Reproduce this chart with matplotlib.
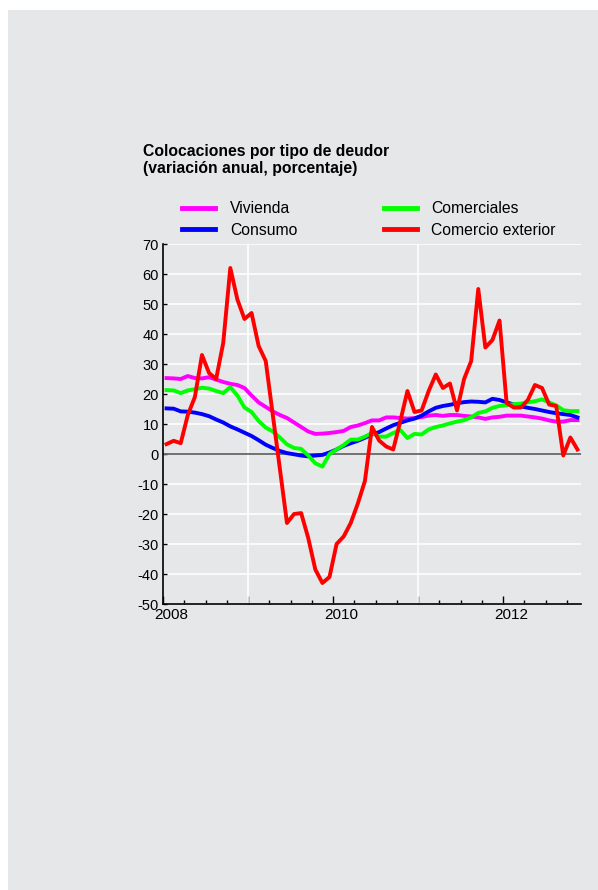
import matplotlib.pyplot as plt
from matplotlib.patches import Rectangle
from matplotlib.ticker import MultipleLocator
import numpy as np

plt.rcParams['font.family'] = ['Liberation Sans', 'DejaVu Sans']

# monthly data, Jan 2008 - Nov 2012 (annual % change)
vivienda = [25.3, 25.2, 25.0, 26.0, 25.3, 25.2, 25.6, 24.8, 24.0, 23.4,
            23.0, 22.0, 19.5, 17.2, 15.7, 14.2, 13.0, 12.0, 10.5, 9.0,
            7.5, 6.7, 6.8, 7.0, 7.3, 7.7, 9.0, 9.5, 10.3, 11.2,
            11.2, 12.2, 12.2, 12.0, 11.8, 12.0, 12.3, 12.8, 13.0, 12.7,
            13.0, 13.0, 12.7, 12.5, 12.2, 11.7, 12.2, 12.4, 12.8, 12.8,
            12.8, 12.5, 12.2, 11.8, 11.2, 10.8, 10.8, 11.3, 11.3]
consumo = [15.2, 15.1, 14.2, 14.1, 13.8, 13.3, 12.6, 11.5, 10.5, 9.2,
           8.2, 7.1, 6.0, 4.6, 3.1, 2.0, 1.0, 0.3, -0.1, -0.5,
           -0.8, -0.5, -0.3, 0.5, 1.5, 2.7, 3.6, 4.4, 5.4, 6.5,
           7.3, 8.5, 9.6, 10.4, 11.2, 11.8, 12.8, 14.2, 15.4, 16.0,
           16.4, 16.9, 17.3, 17.5, 17.4, 17.2, 18.4, 18.0, 17.2, 16.5,
           15.9, 15.4, 15.0, 14.5, 14.0, 13.6, 13.3, 13.0, 12.2]
comerciales = [21.3, 21.2, 20.3, 21.2, 21.6, 22.1, 21.8, 21.0, 20.3, 22.3,
               19.5, 15.5, 14.0, 11.0, 8.8, 7.5, 5.5, 3.2, 2.0, 1.7,
               -0.5, -3.1, -4.2, 0.0, 1.5, 3.0, 4.8, 4.8, 5.8, 7.0,
               5.8, 5.8, 7.0, 8.0, 5.3, 6.7, 6.5, 8.2, 9.0, 9.5,
               10.2, 10.8, 11.3, 12.2, 13.7, 14.2, 15.4, 16.0, 16.3, 16.6,
               16.8, 17.2, 17.6, 18.2, 17.2, 16.2, 14.6, 14.3, 14.3]
comercio_exterior = [3.3, 4.4, 3.6, 13.0, 19.0, 33.0, 27.0, 25.0, 37.0, 62.0,
                     51.5, 45.0, 47.0, 36.0, 31.0, 13.0, -5.0, -23.0, -20.0, -19.7,
                     -28.0, -38.5, -43.0, -41.0, -30.0, -27.5, -23.0, -16.5, -9.0, 9.0,
                     4.5, 2.5, 1.5, 11.0, 21.0, 14.0, 14.5, 21.0, 26.5, 22.0,
                     23.5, 14.5, 25.0, 31.0, 55.0, 35.5, 38.0, 44.5, 17.0, 15.5,
                     15.5, 18.0, 23.0, 22.0, 16.5, 16.0, -0.5, 5.5, 1.5]

series_names = ['Vivienda', 'Consumo', 'Comerciales', 'Comercio exterior']
series_colors = ['#ff00ff', '#0000ff', '#00ff00', '#ff0000']
year_labels = ['2008', '2010', '2012']
y_ticks = list(range(-50, 71, 10))

title = 'Colocaciones por tipo de deudor\n(variación anual, porcentaje)'

months = np.arange(len(vivienda)) + 0.5

fig = plt.figure(figsize=(5.98, 8.9), dpi=100)
fig.patch.set_facecolor('white')
fig.patches.append(Rectangle((8 / 598, 0), 590 / 598, 880 / 890,
                             transform=fig.transFigure, facecolor='#e6e7e8',
                             edgecolor='none', zorder=-10))

ax = fig.add_axes([163 / 598, 1 - 604 / 890, 418 / 598, 360 / 890])
ax.set_facecolor('#e6e7e8')

for vals, name, col in zip([vivienda, consumo, comerciales, comercio_exterior],
                           series_names, series_colors):
    ax.plot(months, vals, color=col, lw=2.8, label=name, zorder=3)

ax.axhline(0, color='#666666', lw=1.3, zorder=2)

ax.set_xlim(0, len(vivienda))
ax.set_ylim(-50, 70)
ax.set_yticks(y_ticks)
ax.set_yticklabels([str(v) for v in y_ticks])
ax.yaxis.grid(True, color='white', lw=1.2)
for gx in [12, 36]:
    ax.axvline(gx, color='white', lw=1.2, zorder=1)
ax.set_axisbelow(True)

ax.xaxis.set_major_locator(MultipleLocator(12))
ax.xaxis.set_minor_locator(MultipleLocator(3))
ax.set_xticklabels([])
ax.tick_params(axis='x', which='major', direction='in', length=6, width=1, color='black')
ax.tick_params(axis='x', which='minor', direction='in', length=3, width=1, color='black')
ax.tick_params(axis='y', direction='in', length=3, width=1, labelsize=10.5, pad=3)

for i, lab in enumerate(year_labels):
    ax.text(i * 24 + 1.2, -51.3, lab, ha='center', va='top', fontsize=11)

for side in ['top', 'right']:
    ax.spines[side].set_visible(False)
for side in ['left', 'bottom']:
    ax.spines[side].set_linewidth(1.2)
    ax.spines[side].set_color('black')

fig.text(143 / 598, 1 - 144 / 890, title, fontsize=11.3, fontweight='bold',
         ha='left', va='top', linespacing=1.2)

leg = fig.legend(loc='upper left', bbox_to_anchor=(182 / 598, 1 - 201 / 890), ncol=2,
                 frameon=False, fontsize=11.3, handlelength=2.1, handletextpad=0.95,
                 columnspacing=5.5, labelspacing=0.42, borderaxespad=0, borderpad=0)
for line in leg.get_lines():
    line.set_linewidth(3.5)

fig.savefig('out.png', dpi=100)
